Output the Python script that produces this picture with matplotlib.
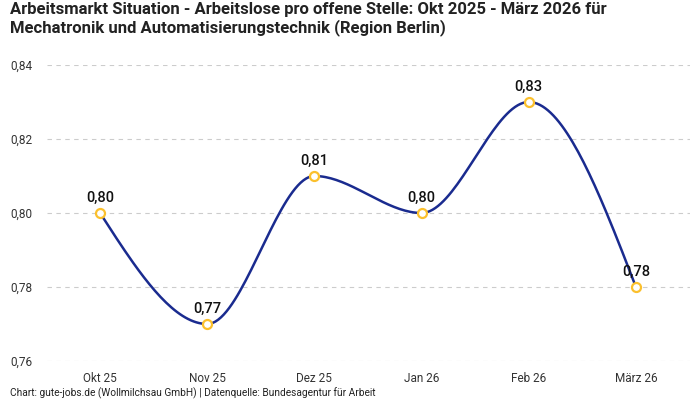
import numpy as np
import matplotlib
matplotlib.use("Agg")
import matplotlib.pyplot as plt
from matplotlib.ticker import FuncFormatter

months = ["Okt 25", "Nov 25", "Dez 25", "Jan 26", "Feb 26", "März 26"]
ratio = [0.80, 0.77, 0.81, 0.80, 0.83, 0.78]
y_ticks = [0.76, 0.78, 0.80, 0.82, 0.84]

plt.rcParams['font.family'] = ['Roboto', 'DejaVu Sans']


def monotone_x(xs, ys, n=40):
    # same smoothing as d3.curveMonotoneX
    xs = np.asarray(xs, float)
    ys = np.asarray(ys, float)
    k = len(xs)
    h = np.diff(xs)
    s = np.diff(ys) / h
    t = np.zeros(k)
    for i in range(1, k - 1):
        p = (s[i - 1] * h[i] + s[i] * h[i - 1]) / (h[i - 1] + h[i])
        t[i] = (np.sign(s[i - 1]) + np.sign(s[i])) * min(abs(s[i - 1]), abs(s[i]), 0.5 * abs(p))
    t[0] = (3 * s[0] - t[1]) / 2
    t[-1] = (3 * s[-1] - t[-2]) / 2
    px, py = [], []
    u = np.linspace(0, 1, n)
    for i in range(k - 1):
        dx = h[i] / 3
        x0, x1, x2, x3 = xs[i], xs[i] + dx, xs[i + 1] - dx, xs[i + 1]
        y0, y1, y2, y3 = ys[i], ys[i] + dx * t[i], ys[i + 1] - dx * t[i + 1], ys[i + 1]
        b = [(1 - u) ** 3, 3 * u * (1 - u) ** 2, 3 * u ** 2 * (1 - u), u ** 3]
        px.extend(b[0] * x0 + b[1] * x1 + b[2] * x2 + b[3] * x3)
        py.extend(b[0] * y0 + b[1] * y1 + b[2] * y2 + b[3] * y3)
    return np.array(px), np.array(py)


fig = plt.figure(figsize=(7, 4), dpi=100)
ax = fig.add_axes([46.5 / 700, 1 - 361 / 400, 643 / 700, 296 / 400])

x = np.arange(len(months))
sx, sy = monotone_x(x, ratio)
ax.plot(sx, sy, color="#1a2b8f", lw=1.8, zorder=3)
ax.scatter(x, ratio, s=42, facecolor="white", edgecolor="#fbc02d", linewidth=1.6, zorder=4)

for xi, v in zip(x, ratio):
    ax.annotate(f"{v:.2f}".replace(".", ","), (xi, v), xytext=(0, 6), textcoords="offset points",
                ha="center", va="bottom", fontsize=10.5, fontweight="medium", color="#111111", zorder=5)

ax.set_xlim(-0.5, len(months) - 0.5)
ax.set_ylim(0.76, 0.84)
ax.set_yticks(y_ticks)
ax.yaxis.set_major_formatter(FuncFormatter(lambda v, _: f"{v:.2f}".replace(".", ",")))
ax.set_xticks(x)
ax.set_xticklabels(months)
ax.tick_params(axis="both", length=0, labelsize=8.5, colors="#333333")
ax.tick_params(axis="y", pad=10)
ax.tick_params(axis="x", pad=8)
ax.grid(axis="y", color="#cccccc", linestyle=(0, (4, 4)), linewidth=0.8)
for sp in ax.spines.values():
    sp.set_visible(False)

fig.text(10 / 700, 1 - 2 / 400,
         "Arbeitsmarkt Situation - Arbeitslose pro offene Stelle: Okt 2025 - März 2026 für\n"
         "Mechatronik und Automatisierungstechnik (Region Berlin)",
         ha="left", va="top", fontsize=12, fontweight="bold", color="#222222", linespacing=1.15)
fig.text(10 / 700, 1 - 393 / 400,
         "Chart: gute-jobs.de (Wollmilchsau GmbH) | Datenquelle: Bundesagentur für Arbeit",
         ha="left", va="center", fontsize=7.3, color="#222222")

fig.savefig("out.png", dpi=100)
